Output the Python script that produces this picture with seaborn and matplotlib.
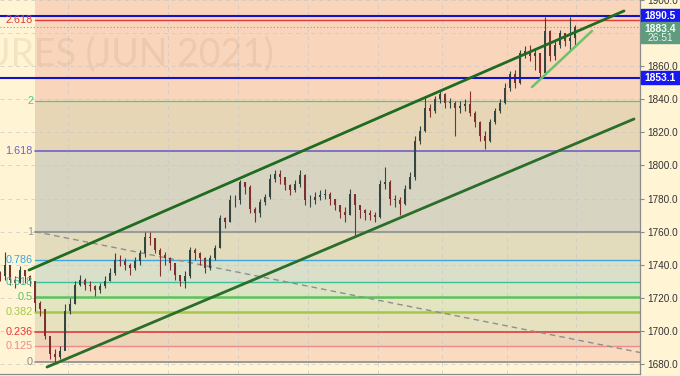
import matplotlib
matplotlib.use("Agg")
import matplotlib.pyplot as plt
import seaborn as sns
import numpy as np
import pandas as pd
from matplotlib.patches import Rectangle

# ---------------- data ----------------
bar_x = list(range(0, 116))  # bar index (one bar every 5 px in the reference)
closes = [1733, 1740, 1731, 1729, 1737, 1733, 1730, 1717, 1713, 1697,
          1686, 1684, 1688, 1712, 1716, 1728, 1731, 1728, 1727, 1725,
          1727, 1730, 1735, 1743, 1742, 1740, 1738, 1742, 1747, 1757,
          1756, 1749, 1746, 1744, 1741, 1734, 1730, 1733, 1749, 1747,
          1744, 1738, 1744, 1750, 1768, 1766, 1779, 1779, 1790, 1787,
          1774, 1771, 1778, 1781, 1792, 1795, 1793, 1788, 1785, 1789,
          1794, 1779, 1779, 1781, 1782, 1783, 1780, 1776, 1772, 1770,
          1783, 1776, 1773, 1771, 1770, 1769, 1789, 1790, 1780, 1779,
          1777, 1786, 1793, 1815, 1821, 1835, 1833, 1840, 1843, 1838,
          1838, 1835, 1836, 1837, 1832, 1826, 1818, 1815, 1826, 1833,
          1838, 1847, 1855, 1850, 1868, 1869, 1866, 1868, 1856, 1881,
          1866, 1873, 1880, 1875, 1877, 1883.4]
highs = [1736, 1748, 1736, 1733, 1739, 1737, 1734, 1729, 1718, 1707,
         1694, 1689, 1691, 1716, 1720, 1730, 1734, 1732, 1730, 1728,
         1729, 1733, 1738, 1747, 1746, 1744, 1741, 1745, 1749, 1760,
         1760, 1756, 1750, 1748, 1745, 1740, 1734, 1736, 1751, 1750,
         1748, 1745, 1746, 1752, 1770, 1769, 1782, 1782, 1791, 1790,
         1788, 1775, 1780, 1783, 1795, 1797, 1797, 1792, 1789, 1791,
         1797, 1795, 1782, 1784, 1785, 1786, 1784, 1780, 1776, 1775,
         1786, 1782, 1776, 1774, 1773, 1772, 1791, 1799, 1791, 1782,
         1781, 1788, 1796, 1818, 1824, 1842, 1837, 1842, 1845, 1844,
         1841, 1839, 1839, 1840, 1845, 1833, 1827, 1821, 1828, 1835,
         1840, 1850, 1857, 1858, 1870, 1872, 1873, 1871, 1868, 1890,
         1882, 1876, 1882, 1880, 1890, 1885]
lows = [1730, 1731, 1728, 1726, 1729, 1729, 1727, 1712, 1709, 1695,
        1683, 1681, 1683, 1698, 1710, 1716, 1727, 1725, 1724, 1721,
        1723, 1726, 1730, 1734, 1739, 1737, 1734, 1737, 1740, 1745,
        1752, 1747, 1733, 1740, 1737, 1731, 1727, 1726, 1732, 1743,
        1740, 1735, 1737, 1743, 1750, 1762, 1766, 1775, 1777, 1783,
        1771, 1766, 1769, 1776, 1780, 1790, 1789, 1785, 1782, 1784,
        1787, 1776, 1775, 1777, 1779, 1780, 1776, 1773, 1768, 1766,
        1770, 1758, 1768, 1767, 1767, 1766, 1768, 1786, 1776, 1775,
        1770, 1776, 1786, 1791, 1813, 1820, 1829, 1832, 1838, 1835,
        1835, 1818, 1832, 1833, 1830, 1823, 1815, 1810, 1814, 1825,
        1832, 1837, 1845, 1847, 1849, 1865, 1863, 1858, 1853, 1855,
        1863, 1864, 1871, 1872, 1870, 1873]

fib_levels = [0, 0.125, 0.236, 0.382, 0.5, 0.618, 0.786, 1, 1.618, 2, 2.618]
fib_labels = ["0", "0.125", "0.236", "0.382", "0.5", "0.618", "0.786", "1", "1.618", "2", "2.618"]
fib_low, fib_high = 1681.0, 1760.0
fib_start, fib_end = 7.0, 128.0

level_colors = ["#8c8c8c", "#ef8a8a", "#e23a3a", "#a3c94a", "#5cc35c", "#3fbf9c",
                "#3fa7dc", "#9a9a9a", "#6d63c9", "#4cc79c", "#e23a3a"]
level_widths = [1.2, 1.0, 1.2, 1.8, 1.8, 1.0, 1.0, 1.5, 1.2, 0.9, 1.0]
zone_colors = ["#fadbbf", "#ecd5b8", "#e6e2bf", "#e2e5c0", "#dde4c4", "#d9dfc8",
               "#e3dcbc", "#d7d4c2", "#e6d6b6", "#f9d5bb"]
top_zone_color = "#f9d5bb"

blue_levels = [1890.5, 1853.1]
blue_labels = ["1890.5", "1853.1"]
last_price = 1883.4
countdown = "26:51"
watermark = "URES (JUN 2021)"

chan_upper_x = [5.8, 124.8]
chan_upper_y = [1736.8, 1893.4]
chan_lower_x = [9.4, 126.8]
chan_lower_y = [1678.2, 1828.1]
short_line_x = [106.4, 118.4]
short_line_y = [1847.4, 1881.3]
dash_line_x = [7.0, 128.0]
dash_line_y = [1760.0, 1687.0]

price_ticks = [1680, 1700, 1720, 1740, 1760, 1780, 1800, 1820, 1840, 1860, 1900]
time_ticks = [13.6, 33.6, 47.6, 61.6, 75.6, 88.4, 101.4, 115.2]

# ---------------- figure ----------------
sns.set_style("white")
plt.rcParams["font.family"] = ["Liberation Sans", "DejaVu Sans"]

BG = "#fff4d4"
fig = plt.figure(figsize=(6.8, 3.76), dpi=100, facecolor=BG)
ax = fig.add_axes([0, 2 / 376, 640 / 680, 374 / 376])
ax.set_facecolor(BG)
ax.set_xlim(0, 128)
ax.set_ylim(1674, 1900)

# fib zones
prices = [fib_low + l * (fib_high - fib_low) for l in fib_levels]
for i in range(len(prices) - 1):
    ax.fill_between([fib_start, fib_end], prices[i], prices[i + 1],
                    color=zone_colors[i], lw=0, zorder=0)
ax.fill_between([fib_start, fib_end], prices[-1], 1900, color=top_zone_color, lw=0, zorder=0)

# grid
for p in range(1680, 1901, 20):
    ax.axhline(p, color="#c8c8c8", lw=0.7, ls=(0, (4, 4)), alpha=0.7, zorder=0.5)
for t in time_ticks:
    ax.axvline(t, color="#c8c8c8", lw=0.7, ls=(0, (4, 4)), alpha=0.7, zorder=0.5)

# fib lines & labels
for p, c, w, lab in zip(prices, level_colors, level_widths, fib_labels):
    ax.plot([fib_start, fib_end], [p, p], color=c, lw=w, zorder=1)
    ax.text(fib_start - 0.4, p, lab, color=c, fontsize=7.8, ha="right", va="center", zorder=3)

# watermark
ax.text(54.8, 1867, watermark, fontsize=27, color="#b07a50", alpha=0.13,
        ha="right", va="center", family=["Lato", "DejaVu Sans"], zorder=0.6)

# dashed diagonal
sns.lineplot(x=dash_line_x, y=dash_line_y, ax=ax, color="#8f8f8f", lw=1.0,
             linestyle=(0, (4, 3)), zorder=1.5)

# candles
df = pd.DataFrame({"x": bar_x, "close": closes, "high": highs, "low": lows})
df["open"] = [1734] + closes[:-1]
up = df["close"] >= df["open"]
col = np.where(up, "#34463f", "#7e2f2f")
ax.vlines(df["x"], df["low"], df["high"], colors=col, lw=0.8, zorder=2)
body_lo = np.minimum(df["open"], df["close"])
body_h = np.abs(df["close"] - df["open"]).clip(lower=0.4)
ax.bar(df["x"], body_h, bottom=body_lo, width=0.45, color=col, lw=0, zorder=2.1)

# horizontal blue lines & current price
for b in blue_levels:
    ax.axhline(b, color="#1212c8", lw=1.5, zorder=2.5)
ax.axhline(last_price, color="#9a9a9a", lw=0.8, ls=(0, (1, 2)), zorder=1.2)

# trend lines
sns.lineplot(x=chan_upper_x, y=chan_upper_y, ax=ax, color="#1f6b1f", lw=2.0, zorder=3)
sns.lineplot(x=chan_lower_x, y=chan_lower_y, ax=ax, color="#2a6e2a", lw=2.0, zorder=3)
sns.lineplot(x=short_line_x, y=short_line_y, ax=ax, color="#6cc36c", lw=1.8, zorder=3)

# axes styling
for s in ["top", "left"]:
    ax.spines[s].set_visible(False)
ax.spines["right"].set_color("#8a8a8a")
ax.spines["bottom"].set_color("#8a8a8a")
ax.spines["right"].set_linewidth(0.9)
ax.spines["bottom"].set_linewidth(0.9)
ax.yaxis.tick_right()
ax.set_yticks(price_ticks)
ax.set_yticklabels([f"{p:.1f}" for p in price_ticks], fontsize=7.2, color="#333333")
ax.tick_params(axis="y", length=3, width=0.8, color="#8a8a8a", pad=2)
ax.set_xticks(time_ticks)
ax.set_xticklabels([])
ax.tick_params(axis="x", length=3, width=0.8, color="#8a8a8a")
ax.set_xlabel("")
ax.set_ylabel("")
if ax.get_legend():
    ax.get_legend().remove()

# right-side badges
tr = ax.get_yaxis_transform()
px = 1 / 1.6545  # data units per pixel
for b, lab in zip(blue_levels, blue_labels):
    ax.add_patch(Rectangle((1.002, b - 6.5 * px), 0.062, 13 * px, transform=tr,
                           color="#1818f2", clip_on=False, zorder=5))
    ax.text(1.032, b, lab, transform=tr, color="white", fontsize=7.4, fontweight="bold",
            ha="center", va="center", clip_on=False, zorder=6)
g_top = 1900 - 22 * px
g_bot = 1900 - 43 * px
ax.add_patch(Rectangle((1.002, g_bot), 0.062, g_top - g_bot, transform=tr,
                       color="#5f9c7e", clip_on=False, zorder=5))
ax.text(1.032, 1900 - 28.5 * px, f"{last_price:.1f}", transform=tr, color="#f2fff7",
        fontsize=7.4, fontweight="bold", ha="center", va="center", clip_on=False, zorder=6)
ax.text(1.032, 1900 - 38 * px, countdown, transform=tr, color="#e3f3ea",
        fontsize=7.4, ha="center", va="center", clip_on=False, zorder=6)

fig.savefig("out.png", dpi=100, facecolor=BG)
